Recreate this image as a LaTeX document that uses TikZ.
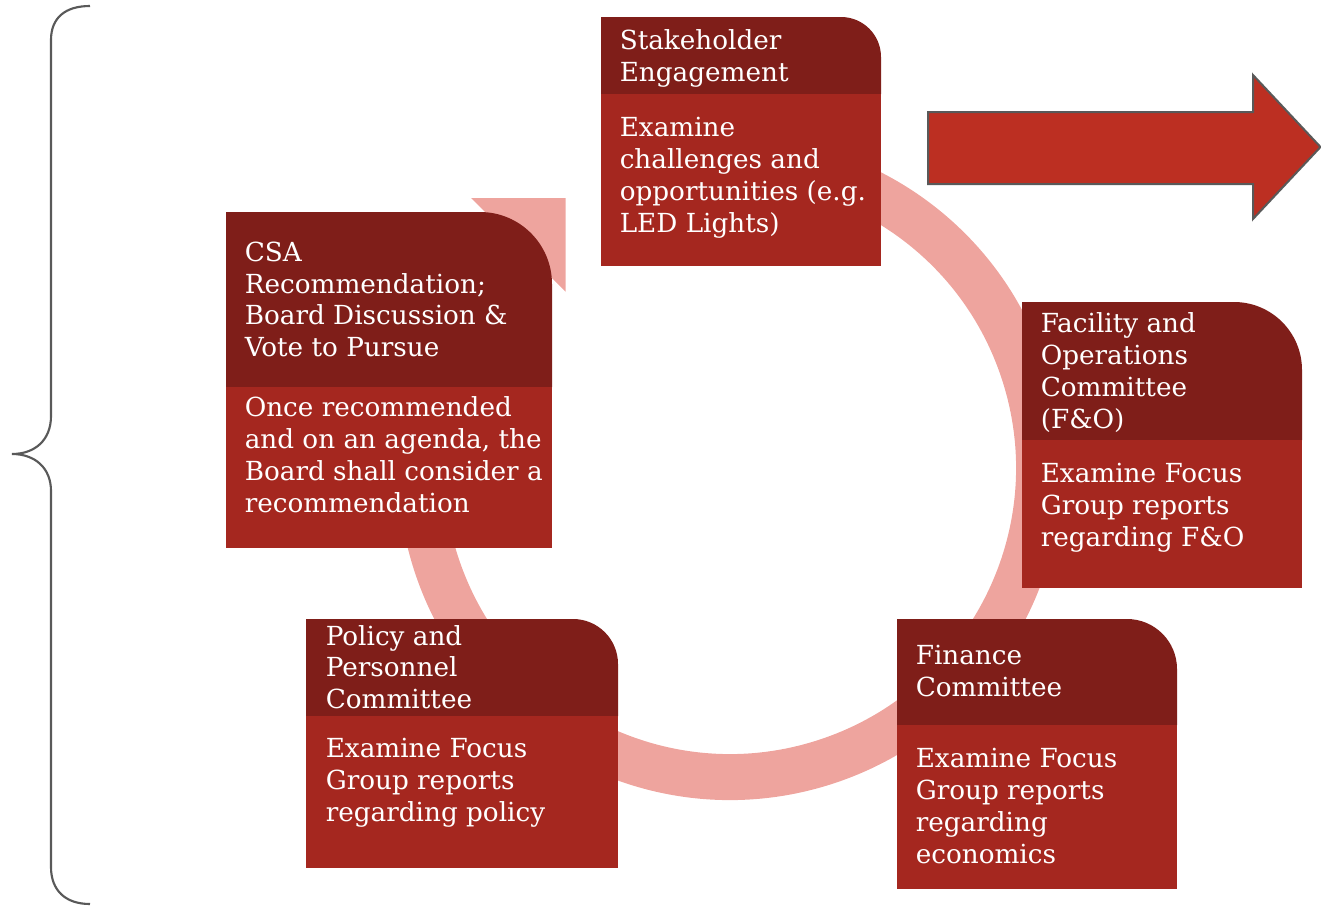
\documentclass[tikz,border=0pt]{standalone}
\usepackage{fontspec}
\setmainfont{DejaVu Serif}
\definecolor{hdrc}{HTML}{7F1E19}
\definecolor{bodyc}{HTML}{A5271F}
\definecolor{arrowc}{HTML}{BC2F22}
\definecolor{ringc}{HTML}{EEA49E}
\definecolor{grayc}{HTML}{595959}
\newcommand\cyclebox[6]{% x1 x2 ytop ymid ybot radius
  \fill[hdrfill] (#1,#4) -- (#1,#3) -- ({#2-#6},#3) arc[start angle=270,end angle=360,radius=#6] -- (#2,#4) -- cycle;
  \fill[bodyfill] (#1,#4) rectangle (#2,#5);
}
\begin{document}
\begin{tikzpicture}[x=0.75pt,y=-0.75pt,
  hdrfill/.style={fill=hdrc},
  bodyfill/.style={fill=bodyc},
  ringline/.style={draw=ringc,line width=34.5pt},
  ringhead/.style={fill=ringc},
  bigarrow/.style={fill=arrowc,draw=grayc,line width=1.5pt,line join=miter},
  bracestyle/.style={draw=grayc,line width=1.6pt},
  txt/.style={anchor=north west,inner sep=0pt,align=left,text=white,
    font=\fontsize{19.7}{23.8}\selectfont,execute at begin node=\strut}]
\useasboundingbox (0,0) rectangle (1321,907);
% brace
\draw[bracestyle] (90,6) .. controls (65,6) and (51,18) .. (51,40) -- (51,416)
  .. controls (51,440) and (35,454) .. (12,454)
  .. controls (35,454) and (51,468) .. (51,491) -- (51,867)
  .. controls (51,890) and (65,904) .. (90,904);
% circular arrow
\coordinate (ctr) at (730,468);
\draw[ringline] (ctr) ++(252:309) arc[start angle=252,end angle=586.5,radius=309];
\fill[ringhead] (471,198) -- (565.7,198) -- (565.7,291.7) -- cycle;
% boxes
\cyclebox{601}{881}{17}{94}{266}{40}
\cyclebox{226}{552}{212}{387}{548}{72}
\cyclebox{1022}{1302}{302}{440}{588}{68}
\cyclebox{306}{618}{619}{716}{868}{45}
\cyclebox{897}{1177}{619}{725}{889}{50}
% texts
\node[txt] (t1h) at (619.5,29.3) {Stakeholder\\Engagement};
\node[txt] (t1b) at (619.5,117.3) {Examine\\challenges and\\opportunities (e.g.\\LED Lights)};
\node[txt] (t2h) at (244.5,241.7) {CSA\\Recommendation;\\Board Discussion \&\\Vote to Pursue};
\node[txt] (t2b) at (244.5,396.7) {Once recommended\\and on an agenda, the\\Board shall consider a\\recommendation};
\node[txt] (t3h) at (1040.5,312.7) {Facility and\\Operations\\Committee\\(F\&O)};
\node[txt] (t3b) at (1040.5,463.3) {Examine Focus\\Group reports\\regarding F\&O};
\node[txt] (t4h) at (325.5,625) {Policy and\\Personnel\\Committee};
\node[txt] (t4b) at (325.5,738.3) {Examine Focus\\Group reports\\regarding policy};
\node[txt] (t5h) at (915.5,645) {Finance\\Committee};
\node[txt] (t5b) at (915.5,748.3) {Examine Focus\\Group reports\\regarding\\economics};
% big arrow
\draw[bigarrow] (928,112) -- (1253,112) -- (1253,75) -- (1320.5,147) -- (1253,219) -- (1253,184) -- (928,184) -- cycle;
\end{tikzpicture}
\end{document}
